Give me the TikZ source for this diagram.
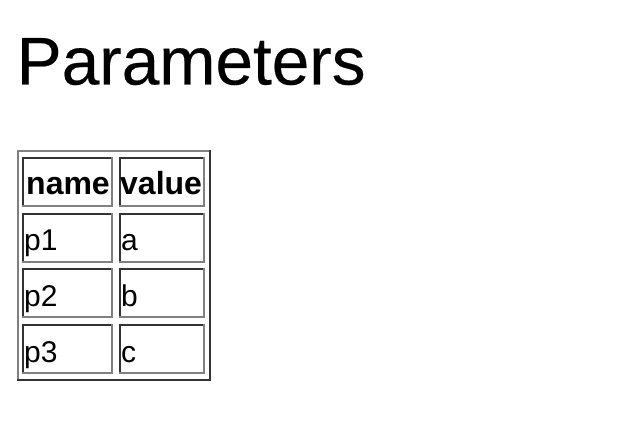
\documentclass[tikz,border=0pt]{standalone}
\usepackage{fontspec}
\setmainfont{Liberation Sans}
\newfontfamily\titlefont[FakeBold=0.3]{Liberation Sans}
\begin{document}
\begin{tikzpicture}[x=1pt,y=-1pt,
  light/.style={draw=black!50,line width=1.6pt},
  dark/.style={draw=black!80,line width=1.6pt},
  celltext/.style={anchor=base west,inner sep=0pt,font=\fontsize{30}{34}\selectfont},
  headtext/.style={anchor=base west,inner sep=0pt,font=\fontsize{32}{36}\selectfont\bfseries}]
\useasboundingbox (0,0) rectangle (624,422);
\fill[white] (0,0) rectangle (624,422);
\node[anchor=base west,inner sep=0pt,font=\titlefont\fontsize{67.5}{76}\selectfont] (title) at (16.5,84.5) {Parameters};
% outer table border (outset)
\draw[light] (17.8,381) -- (17.8,150.8) -- (211,150.8);
\draw[dark] (210.2,150) -- (210.2,380.2) -- (17,380.2);
% cells (inset)
\foreach \xa/\xb in {22/113,119/205}{
  \foreach \ya/\yb in {157/207,213/263,268/318,324/374}{
    \draw[dark] (\xa+0.8,\yb) -- (\xa+0.8,\ya+0.8) -- (\xb,\ya+0.8);
    \draw[light] (\xb-0.8,\ya) -- (\xb-0.8,\yb-0.8) -- (\xa,\yb-0.8);
  }
}
\node[headtext] (hname) at (26,194.5) {name};
\node[headtext] (hvalue) at (120,194.5) {value};
\node[celltext] (n1) at (24,251) {p1};
\node[celltext] (v1) at (121,251) {a};
\node[celltext] (n2) at (24,306) {p2};
\node[celltext] (v2) at (121,306) {b};
\node[celltext] (n3) at (24,362) {p3};
\node[celltext] (v3) at (121,362) {c};
\end{tikzpicture}
\end{document}
